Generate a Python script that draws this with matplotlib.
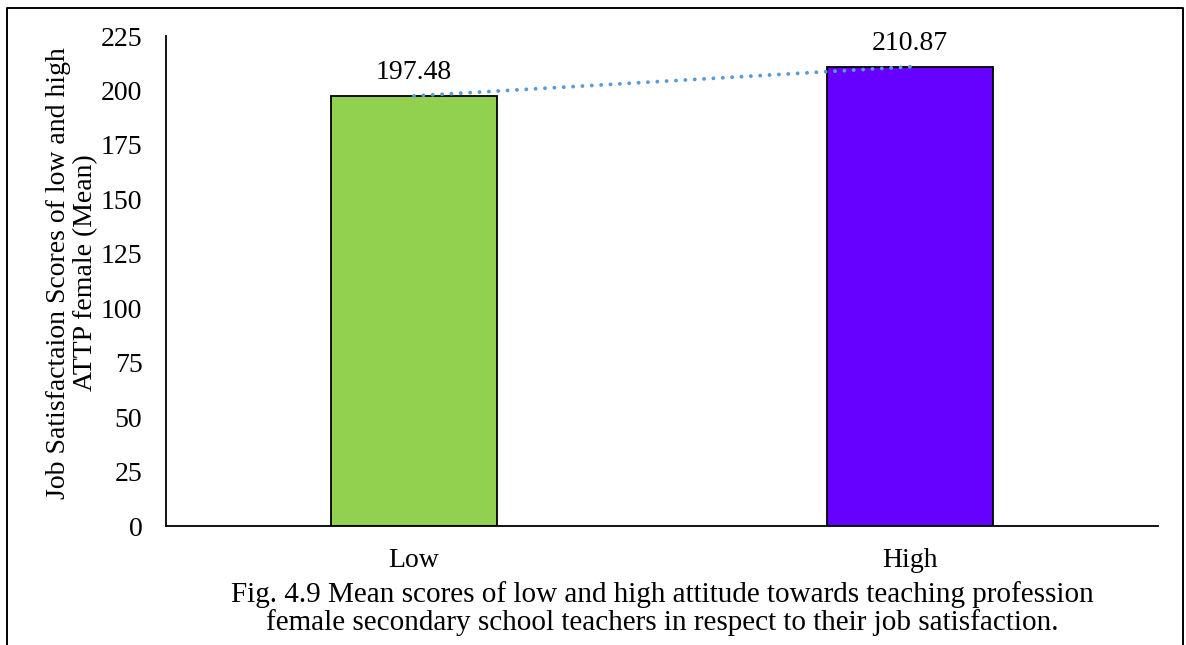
import matplotlib
matplotlib.use("Agg")
import matplotlib.pyplot as plt
import numpy as np

categories = ["Low", "High"]
means = [197.48, 210.87]
bar_colors = ["#92D050", "#6600FF"]
yticks = [0, 25, 50, 75, 100, 125, 150, 175, 200, 225]
ylabel = "Job Satisfactaion Scores of low and high\nATTP female (Mean)"
caption = ("Fig. 4.9 Mean scores of low and high attitude towards teaching profession\n"
           "female secondary school teachers in respect to their job satisfaction.")

plt.rcParams["font.family"] = ["Liberation Serif", "DejaVu Serif"]

fig = plt.figure(figsize=(11.86, 6.45), dpi=100)
W, H = 1186, 645
ax = fig.add_axes([166 / W, 1 - 526 / H, (1158 - 166) / W, (526 - 36) / H])

x = np.arange(len(categories))
ax.bar(x, means, width=0.333, color=bar_colors, edgecolor="black", linewidth=1.3, zorder=2)

# linear trend through the two means
coef = np.polyfit(x, means, 1)
ax.plot(x, np.polyval(coef, x), linestyle=(0, (0.01, 2.4)), color="#5B9BD5",
        linewidth=2.8, dash_capstyle="round", zorder=3)

for xi, v in zip(x, means):
    ax.text(xi, v + 5.0, f"{v:.2f}", ha="center", va="bottom", fontsize=20)

ax.set_xlim(-0.5, 1.5)
ax.set_ylim(0, 225)
ax.set_xticks(x)
ax.set_xticklabels(categories, fontsize=20)
ax.set_yticks(yticks)
ax.set_yticklabels([str(t) for t in yticks], fontsize=20)
ax.tick_params(axis="both", length=0)
ax.tick_params(axis="x", pad=16)
ax.tick_params(axis="y", pad=17)
for s in ["top", "right"]:
    ax.spines[s].set_visible(False)
for s in ["left", "bottom"]:
    ax.spines[s].set_linewidth(1.3)

fig.text(72 / W, 1 - 273 / H, ylabel, rotation=90, ha="center", va="center",
         fontsize=20, linespacing=1.1)

fig.text(662 / W, 1 - 609 / H, caption, ha="center", va="center", fontsize=21,
         linespacing=1.05)

# outer frame (open at the bottom)
fig.add_artist(plt.Line2D([7 / W, 7 / W, 1183 / W, 1183 / W],
                          [0, 1 - 8 / H, 1 - 8 / H, 0],
                          transform=fig.transFigure, color="black", linewidth=1.4))

fig.savefig("out.png", dpi=100, facecolor="white")
